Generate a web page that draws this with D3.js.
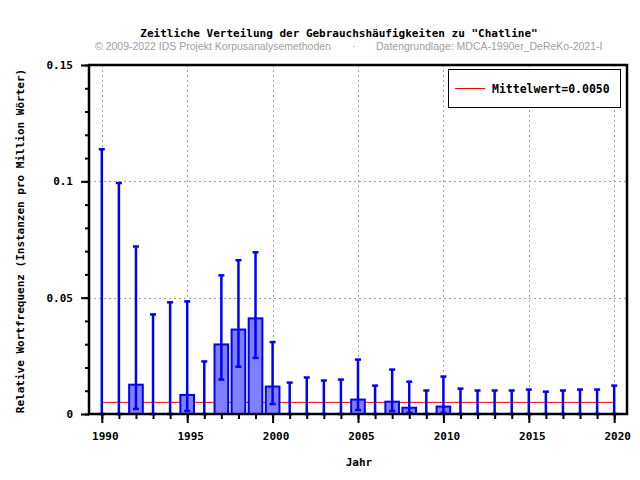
<!DOCTYPE html>
<html>
<head>
<meta charset="utf-8">
<script src="https://cdn.jsdelivr.net/npm/d3@7"></script>
<style>
body { margin: 0; background: #fff; }
svg { display: block; }
</style>
</head>
<body>
<div id="chart"></div>
<script>
var width = 640, height = 480;
var margin = { top: 65, right: 13, bottom: 66, left: 89 };

const years = [1990,1991,1992,1993,1994,1995,1996,1997,1998,1999,2000,2001,2002,2003,2004,2005,2006,2007,2008,2009,2010,2011,2012,2013,2014,2015,2016,2017,2018,2019,2020];
const freq = [0,0,0.0126,0,0,0.0082,0,0.0299,0.0363,0.0411,0.0118,0,0,0,0,0.0062,0,0.0053,0.0027,0,0.0032,0,0,0,0,0,0,0,0,0,0];
const lower = [0,0,0.0022,0,0,0.0013,0,0.0148,0.0203,0.0241,0.0043,0,0,0,0,0.0017,0,0.0013,0.0005,0,0.0005,0,0,0,0,0,0,0,0,0,0];
const upper = [0.1138,0.0993,0.0720,0.0428,0.0480,0.0484,0.0226,0.0596,0.0661,0.0695,0.0309,0.0135,0.0157,0.0144,0.0148,0.0234,0.0122,0.0191,0.0139,0.0101,0.0161,0.0109,0.0101,0.0101,0.0101,0.0105,0.0096,0.0101,0.0105,0.0105,0.0122];
const mean = 0.0050;
const yTicks = [0, 0.05, 0.1, 0.15];
const xTicks = [1990, 1995, 2000, 2005, 2010, 2015, 2020];

var svg = d3.select("#chart").append("svg")
	.attr("width", width)
	.attr("height", height);

var mono = "'DejaVu Sans Mono', monospace";

var x = d3.scaleLinear().domain([1989.25, 2020.75]).range([margin.left, width - margin.right]);
var y = d3.scaleLinear().domain([0, 0.15]).range([height - margin.bottom, margin.top]);

// grid
var grid = svg.append("g").attr("stroke", "#a0a0a0").attr("stroke-dasharray", "2,3").attr("stroke-width", 1);
grid.selectAll("line.gy").data(yTicks.slice(1, 3)).enter().append("line")
	.attr("x1", margin.left).attr("x2", width - margin.right)
	.attr("y1", function (d) { return Math.round(y(d)) + 0.5; })
	.attr("y2", function (d) { return Math.round(y(d)) + 0.5; });
grid.selectAll("line.gx").data(xTicks).enter().append("line")
	.attr("x1", function (d) { return Math.round(x(d)) + 0.5; })
	.attr("x2", function (d) { return Math.round(x(d)) + 0.5; })
	.attr("y1", margin.top).attr("y2", height - margin.bottom);

// mean line
svg.append("line")
	.attr("x1", x(years[0])).attr("x2", x(years[years.length - 1]))
	.attr("y1", y(mean)).attr("y2", y(mean))
	.attr("stroke", "#ff0000").attr("stroke-width", 1);

// bars
var bw = 0.8 * (x(1) - x(0));
svg.selectAll("rect.bar").data(years).enter().append("rect")
	.attr("x", function (d) { return x(d) - bw / 2; })
	.attr("y", function (d, i) { return y(freq[i]); })
	.attr("width", bw)
	.attr("height", function (d, i) { return y(0) - y(freq[i]); })
	.attr("fill", "#8080ff")
	.attr("stroke", "#0000ff")
	.attr("stroke-width", 2)
	.style("display", function (d, i) { return freq[i] > 0 ? null : "none"; });

// error bars
var eb = svg.append("g").attr("stroke", "#0000ff").attr("stroke-width", 2.5);
eb.selectAll("line.v").data(years).enter().append("line")
	.attr("x1", function (d) { return x(d); }).attr("x2", function (d) { return x(d); })
	.attr("y1", function (d, i) { return y(lower[i]); })
	.attr("y2", function (d, i) { return y(upper[i]); });
eb.selectAll("line.u").data(years).enter().append("line")
	.attr("x1", function (d) { return x(d) - 3; }).attr("x2", function (d) { return x(d) + 3; })
	.attr("y1", function (d, i) { return y(upper[i]); })
	.attr("y2", function (d, i) { return y(upper[i]); });
eb.selectAll("line.l").data(years).enter().append("line")
	.attr("x1", function (d) { return x(d) - 3; }).attr("x2", function (d) { return x(d) + 3; })
	.attr("y1", function (d, i) { return y(lower[i]); })
	.attr("y2", function (d, i) { return y(lower[i]); });

// frame
svg.append("rect")
	.attr("x", margin.left).attr("y", margin.top)
	.attr("width", width - margin.left - margin.right)
	.attr("height", height - margin.top - margin.bottom)
	.attr("fill", "none").attr("stroke", "#000").attr("stroke-width", 2.5);

// Y axis
var yAxis = svg.append("g").attr("transform", "translate(" + margin.left + ",0)");
yAxis.call(d3.axisLeft(y).tickValues(d3.range(0, 0.1501, 0.01)).tickSize(4).tickFormat(""));
yAxis.call(function (g) { g.select(".domain").remove(); });
yAxis.selectAll(".tick line").attr("stroke-width", 2);
var yMajor = svg.append("g").attr("transform", "translate(" + margin.left + ",0)")
	.call(d3.axisLeft(y).tickValues(yTicks).tickSize(8).tickPadding(8).tickFormat(d3.format("")));
yMajor.select(".domain").remove();
yMajor.selectAll(".tick line").attr("stroke-width", 2);
yMajor.selectAll("text").attr("font-family", mono).attr("font-weight", "bold").attr("font-size", 11).attr("fill", "#000");

// X axis
var xAxis = svg.append("g").attr("transform", "translate(0," + (height - margin.bottom) + ")")
	.call(d3.axisBottom(x).tickValues(years).tickSize(5).tickFormat(""));
xAxis.select(".domain").remove();
xAxis.selectAll(".tick line").attr("stroke-width", 2);
var xMajor = svg.append("g").attr("transform", "translate(0," + (height - margin.bottom) + ")")
	.call(d3.axisBottom(x).tickValues(xTicks).tickSize(9).tickPadding(9).tickFormat(d3.format("d")));
xMajor.select(".domain").remove();
xMajor.selectAll(".tick line").attr("stroke-width", 2);
xMajor.selectAll("text").attr("font-family", mono).attr("font-weight", "bold").attr("font-size", 11).attr("fill", "#000").attr("dx", 3);

// axis titles
svg.append("text")
	.attr("x", (margin.left + width - margin.right) / 2 + 1).attr("y", 466)
	.attr("text-anchor", "middle")
	.attr("font-family", mono).attr("font-weight", "bold").attr("font-size", 11)
	.text("Jahr");
svg.append("text")
	.attr("transform", "translate(24," + 241 + ")rotate(-90)")
	.attr("text-anchor", "middle")
	.attr("font-family", mono).attr("font-weight", "bold").attr("font-size", 11)
	.text("Relative Wortfrequenz (Instanzen pro Million Wörter)");

// title
svg.append("text")
	.attr("x", 339).attr("y", 37)
	.attr("text-anchor", "middle")
	.attr("font-family", mono).attr("font-weight", "bold").attr("font-size", 11)
	.text("Zeitliche Verteilung der Gebrauchshäufigkeiten zu \"Chatline\"");
svg.append("text")
	.attr("x", 95).attr("y", 50)
	.attr("font-family", "'Liberation Sans', Arial, sans-serif").attr("font-size", 10.5).attr("fill", "#a0a0a0")
	.text("© 2009-2022 IDS Projekt Korpusanalysemethoden");
svg.append("text")
	.attr("x", 352).attr("y", 50)
	.attr("font-family", "'Liberation Sans', Arial, sans-serif").attr("font-size", 10.5).attr("fill", "#a0a0a0")
	.text("·");
svg.append("text")
	.attr("x", 376).attr("y", 50)
	.attr("font-family", "'Liberation Sans', Arial, sans-serif").attr("font-size", 10.5).attr("fill", "#a0a0a0")
	.text("Datengrundlage: MDCA-1990er_DeReKo-2021-I");

// legend
var lg = svg.append("g");
lg.append("rect")
	.attr("x", 448.5).attr("y", 69.5).attr("width", 172).attr("height", 38)
	.attr("fill", "#fff").attr("stroke", "#000").attr("stroke-width", 1);
lg.append("line")
	.attr("x1", 455).attr("x2", 485).attr("y1", 88.5).attr("y2", 88.5)
	.attr("stroke", "#ff0000").attr("stroke-width", 1);
lg.append("text")
	.attr("x", 492).attr("y", 92.5)
	.attr("font-family", mono).attr("font-weight", "bold").attr("font-size", 11.5)
	.text("Mittelwert=" + mean.toFixed(4));
</script>
</body>
</html>
